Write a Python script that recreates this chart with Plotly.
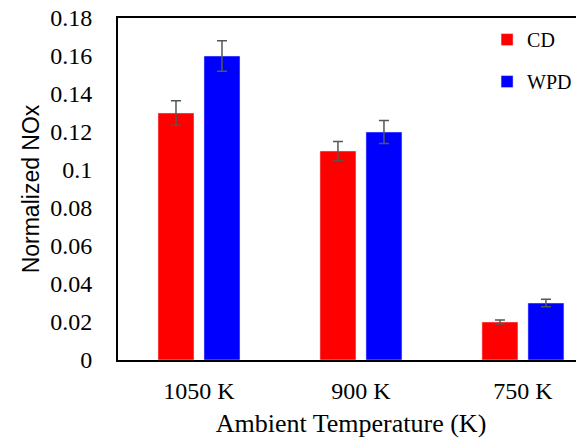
import plotly.graph_objects as go

categories = ["1050 K", "900 K", "750 K"]
cd_values = [0.13, 0.11, 0.02]
cd_errors = [0.0065, 0.005, 0.001]
wpd_values = [0.16, 0.12, 0.03]
wpd_errors = [0.008, 0.006, 0.002]
y_tick_vals = [0, 0.02, 0.04, 0.06, 0.08, 0.1, 0.12, 0.14, 0.16, 0.18]
y_tick_text = ["0", "0.02", "0.04", "0.06", "0.08", "0.1", "0.12", "0.14", "0.16", "0.18"]

SERIF = "Liberation Serif, Times New Roman, serif"
SANS = "Liberation Sans, Arial, sans-serif"

err_style = dict(type="data", color="#505a50", thickness=1.5, width=5)

fig = go.Figure()
fig.add_trace(go.Bar(
    x=categories, y=cd_values, name="CD", marker_color="#ff0000",
    error_y=dict(array=cd_errors, **err_style), legendgroup="a",
))
fig.add_trace(go.Bar(
    x=categories, y=wpd_values, name="WPD", marker_color="#0000ff",
    error_y=dict(array=wpd_errors, **err_style), legendgroup="b",
))

fig.update_layout(
    width=576, height=438,
    margin=dict(l=110, r=0, t=10, b=86, autoexpand=False),
    paper_bgcolor="white", plot_bgcolor="white",
    barmode="group", bargap=0.432, bargroupgap=0.217,
    showlegend=True,
    legend=dict(x=0.792, y=0.994, xanchor="left", yanchor="top",
                font=dict(family=SERIF, size=20, color="black"),
                tracegroupgap=13, itemwidth=30, bgcolor="rgba(0,0,0,0)"),
    font=dict(family=SERIF, color="black"),
)
fig.update_xaxes(
    type="category", range=[-0.5, 2.377], automargin=False,
    showline=True, linecolor="black", linewidth=2, mirror=True,
    ticks="", showgrid=False,
    tickfont=dict(family=SERIF, size=24, color="black"),
    title=dict(text="Ambient Temperature (K)",
               font=dict(family=SERIF, size=26, color="black"),
               standoff=11),
    ticklabelstandoff=8,
)
fig.update_yaxes(
    range=[0, 0.18], tickvals=y_tick_vals, ticktext=y_tick_text, automargin=False,
    showline=True, linecolor="black", linewidth=2, mirror=False,
    ticks="", showgrid=False, zeroline=False,
    tickfont=dict(family=SERIF, size=24, color="black"),
    ticklabelstandoff=19, ticklabeloverflow="allow",
    title=dict(text="Normalized NOx",
               font=dict(family=SANS, size=23, color="black"),
               standoff=4),
)

fig.write_html("out.html")
